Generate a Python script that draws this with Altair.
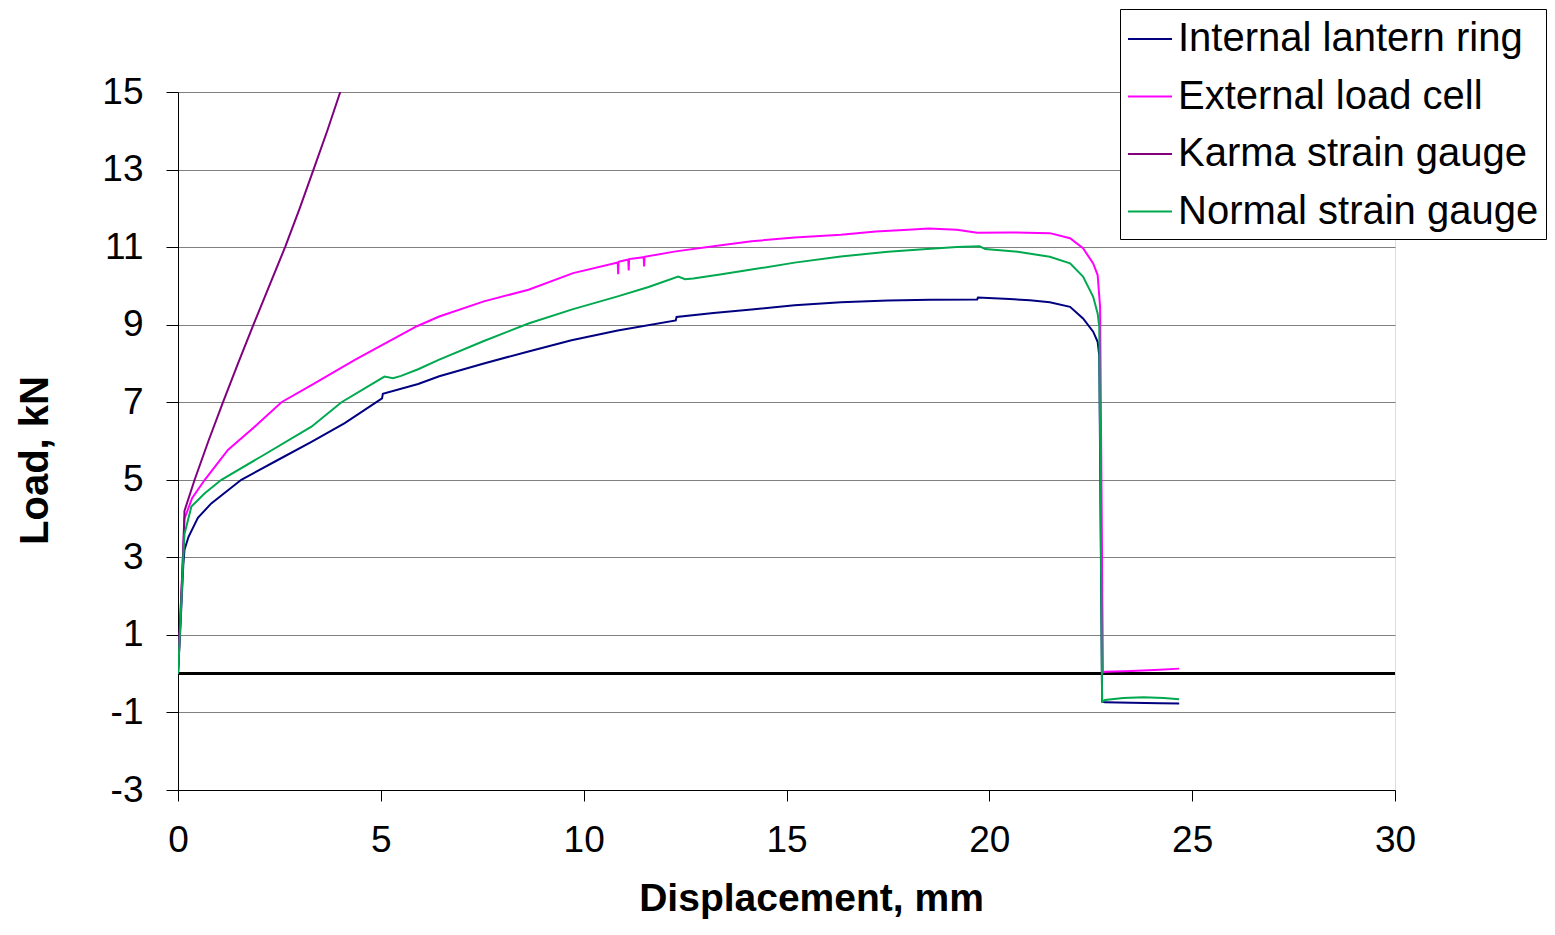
import altair as alt
import pandas as pd

# Series names (legend order)
series_names = ["Internal lantern ring", "External load cell", "Karma strain gauge", "Normal strain gauge"]
series_colors = ["#000080", "#FF00FF", "#800080", "#00A94F"]

# Internal lantern ring
ilr_x = [0, 0.05, 0.13, 0.16, 0.26, 0.49, 0.82, 1.56, 2.46, 3.29, 4.11, 5.03, 5.05, 5.92,
         6.44, 7.54, 8.64, 9.7, 10.84, 12.27, 12.29, 13.2, 14.14, 15.2, 16.34, 17.5, 18.55, 19.7,
         19.72, 20.5, 21.0, 21.49, 21.99, 22.31, 22.56, 22.67, 22.71, 22.78, 22.85, 23.5, 24.2, 24.68]
ilr_y = [0, 1.0, 2.8, 3.2, 3.53, 4.02, 4.39, 5.0, 5.51, 5.98, 6.46, 7.1, 7.22, 7.47,
         7.67, 8.0, 8.31, 8.6, 8.85, 9.11, 9.2, 9.3, 9.39, 9.5, 9.58, 9.62, 9.64, 9.65,
         9.70, 9.66, 9.63, 9.58, 9.46, 9.16, 8.82, 8.56, 8.2, -0.72, -0.74, -0.75, -0.76, -0.77]

# External load cell
elc_x = [0, 0.05, 0.13, 0.16, 0.35, 0.66, 1.23, 1.89, 2.55, 3.29, 4.36, 5.13, 5.89, 6.44,
         7.54, 8.64, 9.74, 10.84, 10.85, 10.86, 11.1, 11.11, 11.12, 11.48, 11.49, 11.5,
         12.27, 13.2, 14.14, 15.2, 16.34, 17.2, 18.0, 18.5, 19.2, 19.7, 20.5, 21.49, 21.99,
         22.31, 22.56, 22.67, 22.73, 22.80, 22.85, 23.5, 24.2, 24.68]
elc_y = [0, 1.2, 3.2, 4.0, 4.53, 5.0, 5.77, 6.37, 7.0, 7.44, 8.09, 8.53, 8.96, 9.21,
         9.6, 9.9, 10.33, 10.6, 10.3, 10.62, 10.68, 10.4, 10.69, 10.74, 10.5, 10.75,
         10.89, 11.02, 11.15, 11.25, 11.32, 11.4, 11.45, 11.48, 11.45, 11.37, 11.38, 11.36, 11.23,
         10.97, 10.58, 10.28, 9.46, 0.03, 0.05, 0.07, 0.10, 0.13]

# Karma strain gauge
ksg_x = [0, 0.05, 0.13, 0.16, 0.41, 0.75, 1.11, 1.48, 1.86, 2.25, 2.64, 3.0, 3.34, 3.68, 4.0]
ksg_y = [0, 1.3, 3.2, 4.2, 5.0, 6.0, 7.0, 8.0, 9.0, 10.0, 11.0, 12.0, 13.0, 14.0, 15.0]

# Normal strain gauge
nsg_x = [0, 0.05, 0.13, 0.16, 0.33, 0.66, 1.07, 2.05, 3.29, 4.03, 5.09, 5.3, 5.5, 5.92,
         6.44, 7.54, 8.64, 9.74, 10.84, 11.6, 12.33, 12.5, 12.7, 13.4, 14.14, 15.2, 16.34, 17.5,
         18.55, 19.2, 19.76, 19.9, 20.7, 21.49, 21.99, 22.31, 22.56, 22.67, 22.71, 22.78, 22.85,
         23.3, 23.8, 24.3, 24.68]
nsg_y = [0, 1.1, 3.0, 3.6, 4.31, 4.65, 5.0, 5.6, 6.37, 7.0, 7.66, 7.62, 7.68, 7.85,
         8.10, 8.58, 9.03, 9.4, 9.73, 9.97, 10.24, 10.17, 10.19, 10.3, 10.42, 10.6, 10.76, 10.88,
         10.96, 11.0, 11.02, 10.95, 10.88, 10.75, 10.58, 10.24, 9.72, 9.29, 8.95, -0.72, -0.68,
         -0.63, -0.61, -0.63, -0.66]

x_ticks = [0, 5, 10, 15, 20, 25, 30]
y_ticks = [-3, -1, 1, 3, 5, 7, 9, 11, 13, 15]

rows = []
for name, xs, ys in zip(series_names, [ilr_x, elc_x, ksg_x, nsg_x], [ilr_y, elc_y, ksg_y, nsg_y]):
    for i, (xv, yv) in enumerate(zip(xs, ys)):
        rows.append({"series": name, "x": xv, "y": yv, "idx": i})
df = pd.DataFrame(rows)

FONT = "Liberation Sans"

x_scale = alt.Scale(domain=[0, 30], nice=False, zero=False)
y_scale = alt.Scale(domain=[-3, 15], nice=False, zero=False)

zero_line = alt.Chart(df).mark_rule(color="black", strokeWidth=2).encode(
    y=alt.datum(0, scale=y_scale)
)

lines = alt.Chart(df).mark_line(strokeWidth=2, clip=True).encode(
    x=alt.X("x:Q", scale=x_scale,
            axis=alt.Axis(values=x_ticks, grid=False, tickSize=11, tickColor="black",
                          domainColor="black", labelFontSize=37, labelFont=FONT,
                          labelColor="black", labelBaseline="alphabetic", labelPadding=50,
                          labelFlush=False,
                          title="Displacement, mm", titleFont=FONT, titleFontSize=39,
                          titleFontWeight="bold", titleColor="black", titleX=633, titleY=120,
                          titleBaseline="alphabetic", titleAlign="center")),
    y=alt.Y("y:Q", scale=y_scale,
            axis=alt.Axis(values=y_ticks, grid=True, gridColor="#808080", gridWidth=1,
                          gridOpacity=1, tickSize=12, tickColor="black", domainColor="black",
                          labelFontSize=37, labelFont=FONT, labelColor="black", labelPadding=23,
                          labelExpr="datum.value < 0 ? '-' + format(-datum.value, 'd') : datum.label",
                          title="Load, kN", titleFont=FONT, titleFontSize=40,
                          titleFontWeight="bold", titleColor="black", titleAngle=270,
                          titleX=-131, titleY=368, titleBaseline="alphabetic",
                          titleAlign="center")),
    color=alt.Color("series:N",
                    scale=alt.Scale(domain=series_names, range=series_colors),
                    sort=series_names,
                    legend=alt.Legend(title=None, orient="none", legendX=942, legendY=-83,
                                      symbolType="stroke", symbolSize=1936,
                                      symbolStrokeWidth=2, labelFontSize=40, labelFont=FONT,
                                      labelColor="black", labelLimit=800, labelOffset=5,
                                      padding=7, rowPadding=14.5, fillColor="white",
                                      strokeColor="black")),
    order=alt.Order("idx:Q"),
    detail="series:N",
)

chart = alt.layer(zero_line, lines).properties(
    width=1217, height=698,
    autosize=alt.AutoSizeParams(type="none"),
    padding={"left": 170, "top": 84, "right": 152, "bottom": 132},
).configure_view(stroke="#808080", strokeWidth=1).configure(background="white")

chart.save("out.html", embed_options={"renderer": "svg", "actions": False})
